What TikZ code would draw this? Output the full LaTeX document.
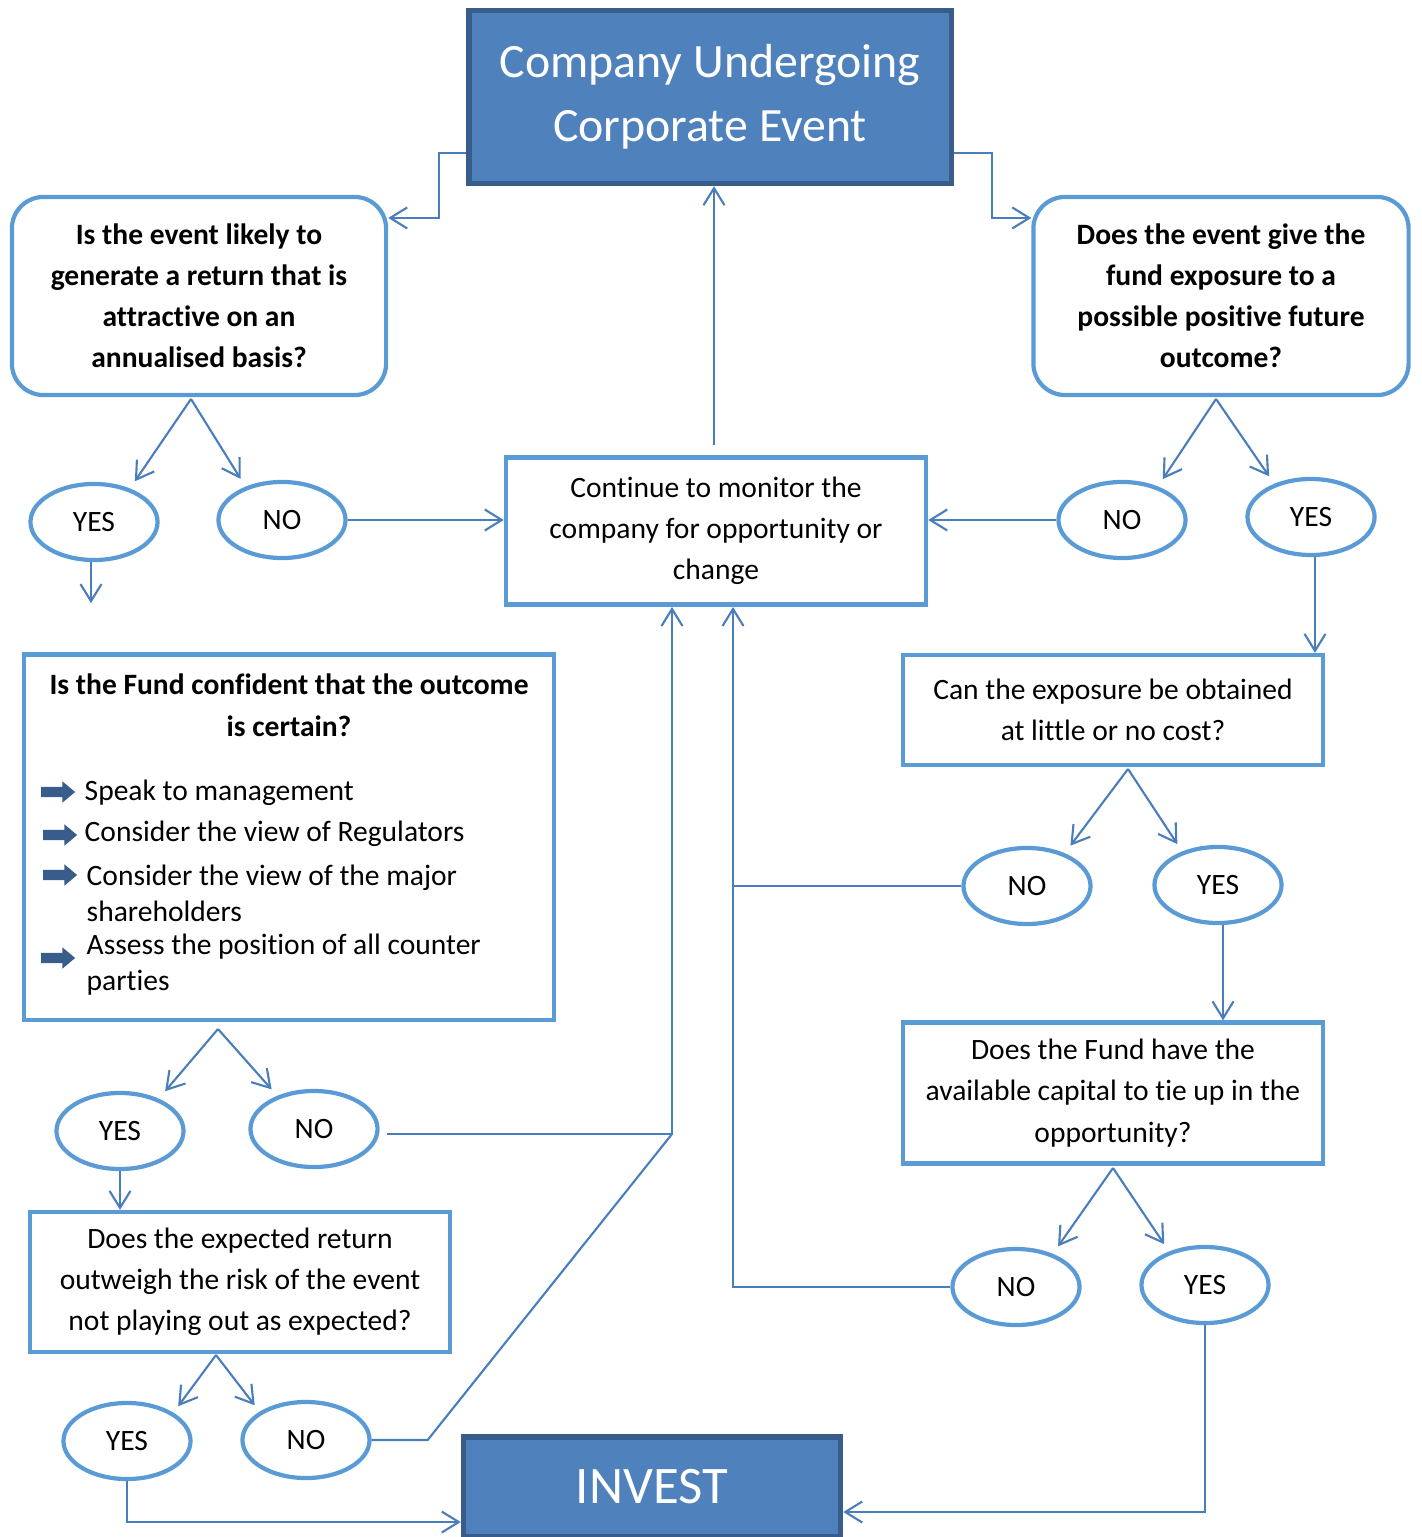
\documentclass[tikz,border=0pt]{standalone}
\usepackage{fontspec}
\setmainfont{Carlito}[Ligatures=NoCommon]
\usetikzlibrary{positioning,shapes,arrows.meta}
\definecolor{midblue}{RGB}{79,129,189}
\definecolor{darkblue}{RGB}{56,93,138}
\definecolor{lightblue}{RGB}{91,155,213}
\definecolor{lineblue}{RGB}{74,126,187}
\newcommand{\bodyfont}{\fontsize{8.4}{11.7}\selectfont}
\tikzstyle{headbox} = [draw=darkblue, line width=1.5pt, fill=midblue, rectangle, text=white, align=center]
\tikzstyle{question} = [draw=lightblue, line width=1.2pt, rectangle, rounded corners=9pt, align=center, font=\bodyfont\bfseries]
\tikzstyle{block} = [draw=lightblue, line width=1.2pt, rectangle, align=center]
\tikzstyle{answer} = [draw=lightblue, line width=1.2pt, ellipse, minimum width=1.27cm, minimum height=0.76cm, inner sep=0pt]
\tikzstyle{coord} = [coordinate]
\tikzstyle{pointer} = [single arrow, fill=darkblue, draw=none, minimum height=0.34cm, inner xsep=0pt, inner ysep=0.045cm, single arrow head extend=0.055cm, single arrow tip angle=80]
\tikzstyle{item} = [anchor=west, inner sep=0pt, align=left, font=\fontsize{8.4}{10.3}\selectfont]
\tikzstyle{link} = [draw=lineblue, line width=0.6pt]

\begin{document}
\begin{tikzpicture}[->,>={Straight Barb[length=1.7mm,width=2.1mm]},x=0.01cm,y=-0.01cm,font=\bodyfont]
	\useasboundingbox (0,0) rectangle (1421,1537);

	% boxes
	\node (top) [headbox, minimum width=4.82cm, minimum height=1.73cm, font=\fontsize{13.6}{18.2}\selectfont] at (710,97) {Company Undergoing\\Corporate Event};
	\node (lq) [question, minimum width=3.74cm, minimum height=1.98cm] at (199,296) {Is the event likely to\\generate a return that is\\attractive on an\\annualised basis?};
	\node (rq) [question, minimum width=3.75cm, minimum height=1.98cm] at (1221,296) {Does the event give the\\fund exposure to a\\possible positive future\\outcome?};
	\node (cont) [block, minimum width=4.2cm, minimum height=1.47cm] at (716,531) {Continue to monitor the\\company for opportunity or\\change};
	\node (expo) [block, minimum width=4.2cm, minimum height=1.1cm] at (1113,710) {Can the exposure be obtained\\at little or no cost?};
	\node (cap) [block, minimum width=4.2cm, minimum height=1.41cm] at (1113,1093) {Does the Fund have the\\available capital to tie up in the\\opportunity?};
	\node (fund) [block, minimum width=5.29cm, minimum height=3.65cm] at (289,837) {};
	\node (ftitle) [font=\fontsize{8.4}{12}\selectfont\bfseries, align=center] at (289,705) {Is the Fund confident that the outcome\\is certain?};
	\node (exp) [block, minimum width=4.2cm, minimum height=1.4cm] at (240,1282) {Does the expected return\\outweigh the risk of the event\\not playing out as expected?};
	\node (invest) [headbox, minimum width=3.77cm, minimum height=1.0cm, font=\fontsize{15}{18}\selectfont] at (652,1487) {INVEST};

	% list in the fund box
	\node (p1) [pointer] at (55,792) {};
	\node (p2) [pointer] at (57,835) {};
	\node (p3) [pointer] at (57,875) {};
	\node (p4) [pointer] at (55,958) {};
	\node (i1) [item] at (84,793) {Speak to management};
	\node (i2) [item] at (84,834) {Consider the view of Regulators};
	\node (i3) [item] at (86,893) {Consider the view of the major\\shareholders};
	\node (i4) [item] at (86,965) {Assess the position of all counter\\parties};

	% answers
	\node (yes1) [answer] at (94,522) {YES};
	\node (no1) [answer] at (282,520) {NO};
	\node (no2) [answer] at (1122,520) {NO};
	\node (yes2) [answer] at (1311,517) {YES};
	\node (no3) [answer] at (1027,886) {NO};
	\node (yes3) [answer] at (1218,885) {YES};
	\node (no4) [answer] at (1016,1287) {NO};
	\node (yes4) [answer] at (1205,1285) {YES};
	\node (yes5) [answer] at (120,1131) {YES};
	\node (no5) [answer] at (314,1129) {NO};
	\node (yes6) [answer] at (127,1441) {YES};
	\node (no6) [answer] at (306,1440) {NO};

	\node (lqf) [coord] at (191,399) {};
	\node (rqf) [coord] at (1216,399) {};
	\node (expof) [coord] at (1128,769) {};
	\node (capf) [coord] at (1113,1168) {};
	\node (fundf) [coord] at (218,1029) {};
	\node (expf) [coord] at (216,1355) {};
	\node (vr) [coord] at (733,607) {};
	\node (vl) [coord] at (672,607) {};
	\node (vj) [coord] at (672,1134) {};

	% connectors
	\draw[link] ([yshift=-0.56cm]top.west) -- ++(-27,0) |- ([yshift=0.78cm]lq.east);
	\draw[link] ([yshift=-0.56cm]top.east) -- ++(38,0) |- ([yshift=0.78cm]rq.west);
	\draw[link, shorten <=0.1cm] ([xshift=-0.02cm]cont.north) -- ([xshift=-0.02cm]cont.north |- top.south);
	\draw[link, shorten >=0.15cm] (lqf) -- ([xshift=-0.14cm]yes1.north east);
	\draw[link, shorten >=0.15cm] (lqf) -- ([xshift=0.13cm]no1.north west);
	\draw[link, shorten >=0.15cm] (rqf) -- ([xshift=-0.14cm]no2.north east);
	\draw[link, shorten >=0.15cm] (rqf) -- ([xshift=0.13cm]yes2.north west);
	\draw[link, shorten >=0.15cm] (expof) -- ([xshift=-0.12cm]no3.north east);
	\draw[link, shorten >=0.15cm] (expof) -- ([xshift=0.14cm]yes3.north west);
	\draw[link, shorten >=0.15cm] (capf) -- ([xshift=-0.13cm]no4.north east);
	\draw[link, shorten >=0.15cm] (capf) -- ([xshift=0.14cm]yes4.north west);
	\draw[link, shorten >=0.15cm] (fundf) -- ([xshift=-0.11cm]yes5.north east);
	\draw[link, shorten >=0.15cm] (fundf) -- ([xshift=0.14cm]no5.north west);
	\draw[link, shorten >=0.08cm] (expf) -- (yes6.north east);
	\draw[link, shorten >=0.08cm] (expf) -- (no6.north west);
	\draw[link] ([xshift=-0.03cm]yes1.south) -- ++(0,41);
	\draw[link] (no1.east) -- (no1.east -| cont.west);
	\draw[link] (no2.west) -- (no2.west -| cont.east);
	\draw[link] ([xshift=0.04cm]yes2.south) -- ([xshift=0.04cm]yes2.south |- expo.north);
	\draw[link] ([xshift=0.05cm]yes3.south) -- ([xshift=0.05cm]yes3.south |- cap.north);
	\draw[link] (yes5.south) -- (yes5.south |- exp.north);
	\draw[link] (no4.west) -| (vr);
	\draw[link, -] (no3.west) -- (no3.west -| vr);
	\draw[link, shorten <=0.07cm] ([yshift=-0.05cm]no5.east) -| (vl);
	\draw[link, -] (no6.east) -- ++(56,0) -- (vj);
	\draw[link] (yes6.south) |- ([yshift=-0.35cm]invest.west);
	\draw[link] (yes4.south) |- ([yshift=-0.25cm]invest.east);
\end{tikzpicture}
\end{document}
